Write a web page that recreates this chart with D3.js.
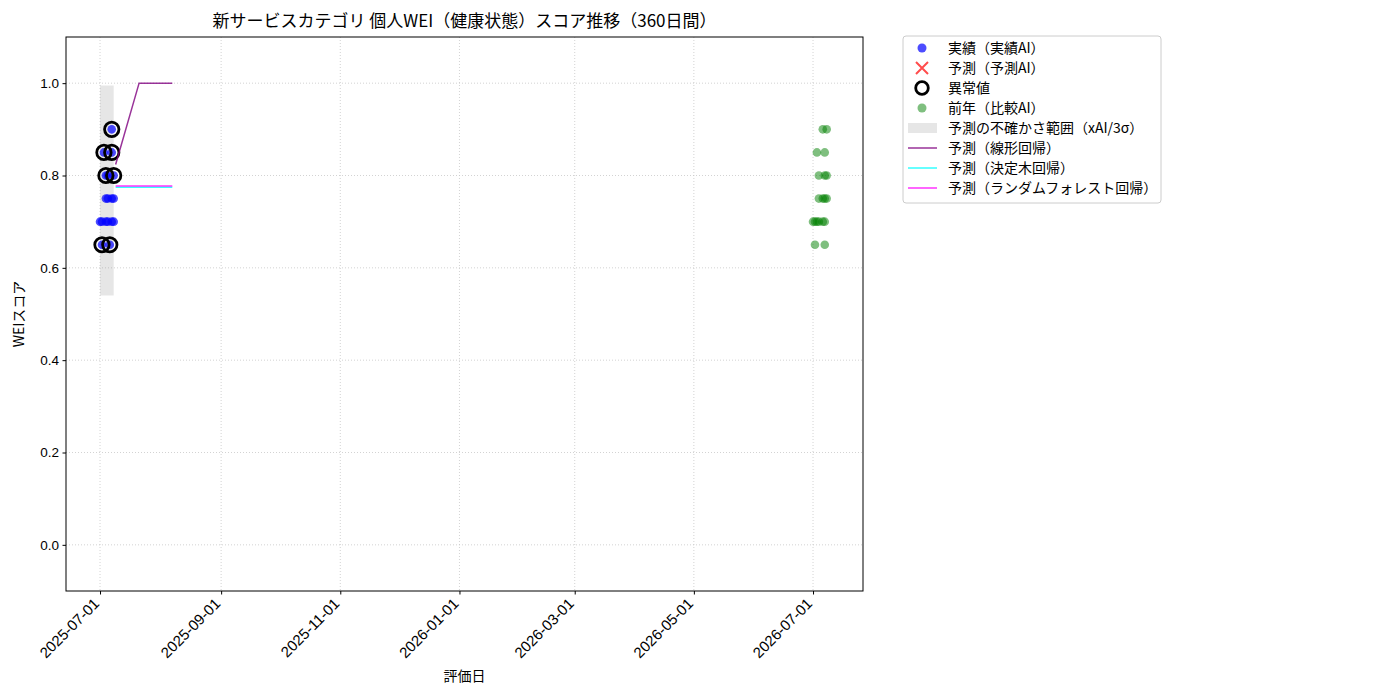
<!DOCTYPE html>
<html>
<head>
<meta charset="utf-8">
<script src="https://cdn.jsdelivr.net/npm/d3@7"></script>
<style>
  html, body { margin: 0; padding: 0; background: #fff; overflow: hidden; }
  svg { display: block; font-family: "Noto Sans CJK JP", "Noto Sans", sans-serif; }
</style>
</head>
<body>
<svg></svg>
<script>
// data
const actualDates = [
  '2025-07-02', '2025-07-06',
  '2025-07-01', '2025-07-02', '2025-07-04', '2025-07-05', '2025-07-07', '2025-07-08',
  '2025-07-04', '2025-07-05', '2025-07-07', '2025-07-08',
  '2025-07-04', '2025-07-05', '2025-07-08',
  '2025-07-03', '2025-07-07',
  '2025-07-07'
];
const actualValues = [
  0.65, 0.65,
  0.7, 0.7, 0.7, 0.7, 0.7, 0.7,
  0.75, 0.75, 0.75, 0.75,
  0.8, 0.8, 0.8,
  0.85, 0.85,
  0.9
];

const anomalyDates = ['2025-07-02', '2025-07-06', '2025-07-04', '2025-07-08', '2025-07-03', '2025-07-07', '2025-07-07'];
const anomalyValues = [0.65, 0.65, 0.8, 0.8, 0.85, 0.85, 0.9];

const lastYearDates = [
  '2026-07-06', '2026-07-08',
  '2026-07-03', '2026-07-07',
  '2026-07-04', '2026-07-07', '2026-07-08',
  '2026-07-04', '2026-07-06', '2026-07-07', '2026-07-08',
  '2026-07-01', '2026-07-02', '2026-07-03', '2026-07-04', '2026-07-06', '2026-07-07',
  '2026-07-02', '2026-07-07'
];
const lastYearValues = [
  0.9, 0.9,
  0.85, 0.85,
  0.8, 0.8, 0.8,
  0.75, 0.75, 0.75, 0.75,
  0.7, 0.7, 0.7, 0.7, 0.7, 0.7,
  0.65, 0.65
];

const bandDates = ['2025-07-01', '2025-07-08'];
const bandLower = [0.54, 0.54];
const bandUpper = [0.995, 0.995];

const linearDates = ['2025-07-09', '2025-07-21', '2025-08-07'];
const linearValues = [0.824, 1.0, 1.0];
const treeDates = ['2025-07-09', '2025-08-07'];
const treeValues = [0.7745, 0.7745];
const forestDates = ['2025-07-09', '2025-08-07'];
const forestValues = [0.777, 0.777];

const xTicks = ['2025-07-01', '2025-09-01', '2025-11-01', '2026-01-01', '2026-03-01', '2026-05-01', '2026-07-01'];
const yTicks = [0.0, 0.2, 0.4, 0.6, 0.8, 1.0];

const legendLabels = [
  '実績（実績AI）',
  '予測（予測AI）',
  '異常値',
  '前年（比較AI）',
  '予測の不確かさ範囲（xAI/3σ）',
  '予測（線形回帰）',
  '予測（決定木回帰）',
  '予測（ランダムフォレスト回帰）'
];

// layout
const width = 1400;
const height = 700;
const margin = { left: 66, top: 37, right: 537, bottom: 109 };
const innerWidth = width - margin.left - margin.right;
const innerHeight = height - margin.top - margin.bottom;

const svg = d3.select('svg')
  .attr('width', width)
  .attr('height', height)
  .attr('viewBox', `0 0 ${width} ${height}`);
const parse = d3.utcParse('%Y-%m-%d');

const x = d3.scaleUtc()
  .domain([d3.isoParse('2025-06-13T14:00:00Z'), d3.isoParse('2026-07-26T14:00:00Z')])
  .range([0, innerWidth]);
const y = d3.scaleLinear().domain([-0.1, 1.1]).range([innerHeight, 0]);

const g = svg.append('g').attr('transform', `translate(${margin.left},${margin.top})`);

// grid
g.append('g')
  .selectAll('line')
  .data(xTicks)
  .join('line')
  .attr('x1', (d) => x(parse(d)))
  .attr('x2', (d) => x(parse(d)))
  .attr('y1', 0)
  .attr('y2', innerHeight)
  .attr('stroke', '#c8c8c8')
  .attr('stroke-width', 0.8)
  .attr('stroke-dasharray', '1,2');
g.append('g')
  .selectAll('line')
  .data(yTicks)
  .join('line')
  .attr('x1', 0)
  .attr('x2', innerWidth)
  .attr('y1', (d) => y(d))
  .attr('y2', (d) => y(d))
  .attr('stroke', '#c8c8c8')
  .attr('stroke-width', 0.8)
  .attr('stroke-dasharray', '1,2');

// uncertainty band
const band = bandDates.map((d, i) => ({ date: parse(d), lo: bandLower[i], hi: bandUpper[i] }));
g.append('path')
  .datum(band)
  .attr('fill', 'rgba(128,128,128,0.2)')
  .attr('d', d3.area().x((d) => x(d.date)).y0((d) => y(d.lo)).y1((d) => y(d.hi)));

// actual
g.append('g')
  .selectAll('circle')
  .data(actualDates.map((d, i) => [parse(d), actualValues[i]]))
  .join('circle')
  .attr('cx', (d) => x(d[0]))
  .attr('cy', (d) => y(d[1]))
  .attr('r', 4.3)
  .attr('fill', 'blue')
  .attr('fill-opacity', 0.7);

// anomalies
g.append('g')
  .selectAll('circle')
  .data(anomalyDates.map((d, i) => [parse(d), anomalyValues[i]]))
  .join('circle')
  .attr('cx', (d) => x(d[0]))
  .attr('cy', (d) => y(d[1]))
  .attr('r', 7.2)
  .attr('fill', 'none')
  .attr('stroke', 'black')
  .attr('stroke-width', 2.8);

// last year
g.append('g')
  .selectAll('circle')
  .data(lastYearDates.map((d, i) => [parse(d), lastYearValues[i]]))
  .join('circle')
  .attr('cx', (d) => x(d[0]))
  .attr('cy', (d) => y(d[1]))
  .attr('r', 4.3)
  .attr('fill', 'green')
  .attr('fill-opacity', 0.5);

// forecast lines
const line = d3.line().x((d) => x(d[0])).y((d) => y(d[1]));
const series = [
  { dates: treeDates, values: treeValues, color: 'rgba(0,255,255,0.8)' },
  { dates: forestDates, values: forestValues, color: 'rgba(255,0,255,0.8)' },
  { dates: linearDates, values: linearValues, color: 'rgba(128,0,128,0.8)' }
];
series.forEach((s) => {
  g.append('path')
    .datum(s.dates.map((d, i) => [parse(d), s.values[i]]))
    .attr('fill', 'none')
    .attr('stroke', s.color)
    .attr('stroke-width', 1.5)
    .attr('d', line);
});

// frame
g.append('rect')
  .attr('width', innerWidth)
  .attr('height', innerHeight)
  .attr('fill', 'none')
  .attr('stroke', 'black')
  .attr('stroke-width', 1);

// axes
const xAxis = g.append('g')
  .attr('transform', `translate(0,${innerHeight})`)
  .call(d3.axisBottom(x).tickValues(xTicks.map(parse)).tickSize(3.5).tickFormat(d3.utcFormat('%Y-%m-%d')));
xAxis.select('.domain').remove();
xAxis.selectAll('text')
  .attr('font-size', 15)
  .attr('fill', 'black')
  .attr('text-anchor', 'end')
  .attr('x', 0)
  .attr('y', 0)
  .attr('dy', '0.35em')
  .attr('transform', 'translate(-4,10) rotate(-45)');

const yAxis = g.append('g')
  .call(d3.axisLeft(y).tickValues(yTicks).tickSize(3.5).tickPadding(3.5).tickFormat(d3.format('.1f')));
yAxis.select('.domain').remove();
yAxis.selectAll('text').attr('font-size', 13.5).attr('fill', 'black');

// titles
svg.append('text')
  .attr('x', margin.left + innerWidth / 2)
  .attr('y', 27)
  .attr('text-anchor', 'middle')
  .attr('font-size', 17)
  .text('新サービスカテゴリ 個人WEI（健康状態）スコア推移（360日間）');
svg.append('text')
  .attr('x', margin.left + innerWidth / 2)
  .attr('y', 681)
  .attr('text-anchor', 'middle')
  .attr('font-size', 14)
  .text('評価日');
svg.append('text')
  .attr('transform', `translate(24,${margin.top + innerHeight / 2}) rotate(-90)`)
  .attr('text-anchor', 'middle')
  .attr('font-size', 14)
  .text('WEIスコア');

// legend
const lg = svg.append('g').attr('transform', 'translate(903,36)');
lg.append('rect')
  .attr('width', 258)
  .attr('height', 167)
  .attr('rx', 3)
  .attr('fill', 'rgba(255,255,255,0.8)')
  .attr('stroke', '#cccccc');
const rowY = (i) => 12 + i * 20;
const mx = 19;
lg.append('circle').attr('cx', mx).attr('cy', rowY(0)).attr('r', 4.5).attr('fill', 'blue').attr('fill-opacity', 0.7);
lg.append('path')
  .attr('d', `M${mx - 6},${rowY(1) - 6}L${mx + 6},${rowY(1) + 6}M${mx - 6},${rowY(1) + 6}L${mx + 6},${rowY(1) - 6}`)
  .attr('stroke', 'rgba(255,0,0,0.7)')
  .attr('stroke-width', 2);
lg.append('circle').attr('cx', mx).attr('cy', rowY(2)).attr('r', 6.3).attr('fill', 'none').attr('stroke', 'black').attr('stroke-width', 2.8);
lg.append('circle').attr('cx', mx).attr('cy', rowY(3)).attr('r', 4.5).attr('fill', 'green').attr('fill-opacity', 0.5);
lg.append('rect').attr('x', 5).attr('y', rowY(4) - 5).attr('width', 29).attr('height', 10).attr('fill', 'rgba(128,128,128,0.2)');
[series[2].color, series[0].color, series[1].color].forEach((c, i) => {
  lg.append('line')
    .attr('x1', 5).attr('x2', 34)
    .attr('y1', rowY(5 + i)).attr('y2', rowY(5 + i))
    .attr('stroke', c).attr('stroke-width', 1.5);
});
lg.selectAll('text.lab')
  .data(legendLabels)
  .join('text')
  .attr('class', 'lab')
  .attr('x', 45)
  .attr('y', (d, i) => rowY(i))
  .attr('dy', '0.35em')
  .attr('font-size', 14)
  .text((d) => d);
</script>
</body>
</html>
